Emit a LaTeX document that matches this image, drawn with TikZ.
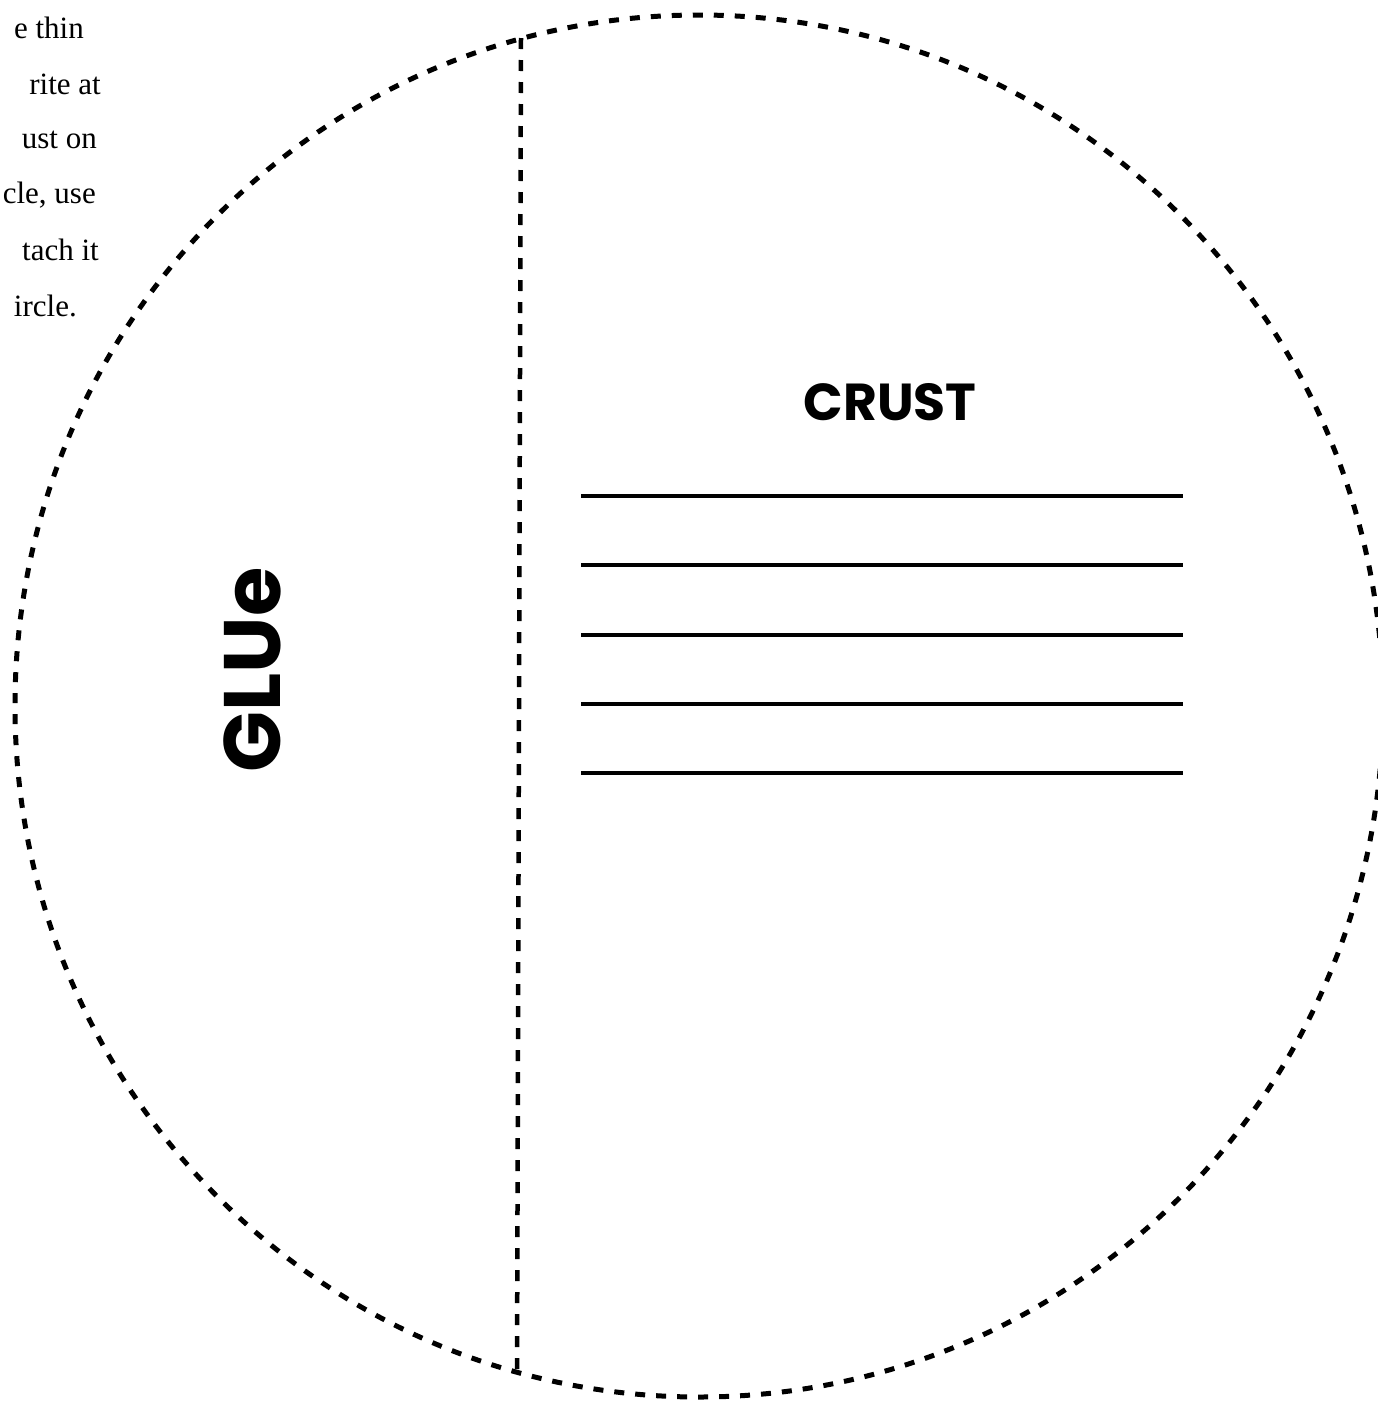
\documentclass[tikz,border=0pt]{standalone}
\usepackage{fontspec}
\newfontfamily\headfont{Poppins}
\newfontfamily\notefont{Liberation Serif}
\begin{document}
\begin{tikzpicture}[x=1pt,y=-1pt,
  cutline/.style={line width=5pt, dash pattern=on 10pt off 11pt},
  foldline/.style={line width=4.5pt, dash pattern=on 11pt off 11pt},
  writeline/.style={line width=3.5pt},
  note/.style={anchor=east, inner sep=0pt, font=\notefont\fontsize{31}{34}\selectfont}]
\useasboundingbox (0,0) rectangle (1378,1403);
\fill[white] (0,0) rectangle (1378,1403);
% outer circle
\draw[cutline] (699,706) ellipse [x radius=684, y radius=691];
% fold line
\coordinate (ftop) at (521,38);
\coordinate (fbot) at (517,1376);
\draw[foldline] (ftop) -- (fbot);
% title
\node[font=\headfont\bfseries\fontsize{52}{52}\selectfont, inner sep=0pt] (crust) at (890,402) {CRUST};
\node[font=\headfont\bfseries\fontsize{80}{80}\selectfont, inner sep=0pt, rotate=90] (glue) at (252,670) {GLUe};
% writing lines
\foreach \yy [count=\i] in {496,565,635,704,773}{
  \coordinate (l\i a) at (581,\yy);
  \coordinate (l\i b) at (1183,\yy);
  \draw[writeline] (l\i a) -- (l\i b);
}
% cut-off instructions
\node[note] (n1) at (84,28) {e thin};
\node[note] (n2) at (101,84) {rite at};
\node[note] (n3) at (97,140) {ust on};
\node[note] (n4) at (96,195) {cle, use};
\node[note] (n5) at (99,250) {tach it};
\node[note] (n6) at (77,306) {ircle.};
\end{tikzpicture}
\end{document}
